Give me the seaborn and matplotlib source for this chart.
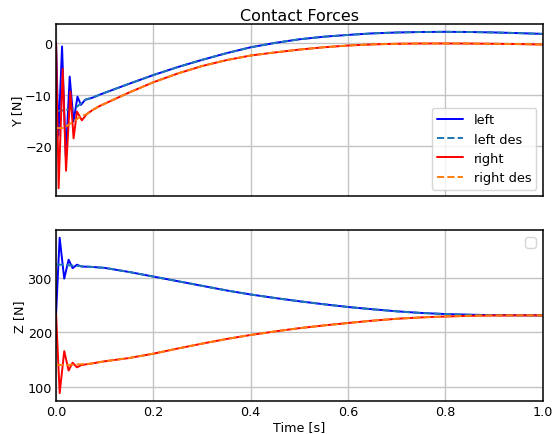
import matplotlib
matplotlib.use("Agg")
import matplotlib.pyplot as plt
import seaborn as sns

# ---------------- data ----------------
# smooth part of the Y (lateral) forces, after the transient
t_y_smooth = [0.09, 0.12, 0.15, 0.20, 0.25, 0.30, 0.35, 0.40, 0.45, 0.50,
              0.55, 0.60, 0.65, 0.70, 0.75, 0.80, 0.85, 0.90, 0.95, 1.0]
y_left_smooth = [-10.0, -8.95, -7.9, -6.2, -4.65, -3.25, -1.95, -0.8, 0.05, 0.75,
                 1.25, 1.6, 1.9, 2.07, 2.17, 2.2, 2.17, 2.08, 1.95, 1.8]
y_right_smooth = [-12.2, -10.9, -9.6, -7.6, -5.9, -4.45, -3.3, -2.4, -1.8, -1.25,
                  -0.8, -0.46, -0.24, -0.12, -0.07, -0.06, -0.08, -0.12, -0.18, -0.27]

# transient oscillations of the Y forces
t_y_left_osc = [0.0, 0.005, 0.0123, 0.020, 0.028, 0.036, 0.044, 0.051, 0.060, 0.075]
y_left_osc = [0.0, -18.0, -0.65, -22.0, -6.5, -15.2, -10.4, -12.0, -11.0, -10.6]
t_y_right_osc = [0.0, 0.0053, 0.0136, 0.0205, 0.0294, 0.036, 0.043, 0.053, 0.063, 0.075]
y_right_osc = [0.0, -28.2, -5.0, -24.8, -9.4, -18.5, -13.3, -15.0, -13.8, -13.0]

# desired Y forces at the start
t_y_left_des_early = [0.0, 0.02, 0.04, 0.06, 0.075]
y_left_des_early = [-13.2, -13.0, -12.6, -11.0, -10.6]
t_y_right_des_early = [0.0, 0.016, 0.033, 0.05, 0.063, 0.075]
y_right_des_early = [-16.5, -16.5, -15.4, -14.3, -13.8, -13.0]

# smooth part of the Z (vertical) forces
t_z_smooth = [0.10, 0.15, 0.20, 0.25, 0.30, 0.35, 0.40, 0.45, 0.50, 0.55,
              0.60, 0.65, 0.70, 0.75, 0.80, 0.85, 0.90, 0.95, 1.0]
z_left_smooth = [318.5, 311.0, 302.5, 294.0, 285.5, 277.0, 269.5, 263.0, 257.0, 251.5,
                 246.5, 242.3, 238.5, 235.5, 233.5, 232.2, 231.5, 231.2, 231.0]
z_right_smooth = [146.5, 152.5, 160.5, 170.0, 179.0, 187.5, 195.0, 201.5, 207.5, 212.5,
                  217.0, 221.3, 224.8, 227.3, 229.0, 230.2, 230.8, 231.0, 231.0]

# transient oscillations of the Z forces
t_z_osc = [0.0, 0.0074, 0.0168, 0.0258, 0.034, 0.043, 0.052, 0.07]
z_left_osc = [234.0, 374.0, 298.7, 333.6, 318.0, 324.4, 321.0, 320.5]
z_right_osc = [234.0, 87.7, 165.3, 129.4, 144.0, 135.4, 139.6, 142.0]

t_z_des_early = [0.0, 0.03, 0.07]
z_left_des_early = [325.0, 323.0, 320.5]
z_right_des_early = [139.6, 140.0, 142.0]

labels = ["left", "left des", "right", "right des"]
colors = ["#0000ff", "#1f77b4", "#ff0000", "#ff7f0e"]
styles = ["-", "--", "-", "--"]
x_ticks = [0.0, 0.2, 0.4, 0.6, 0.8, 1.0]
y_ticks = [-20, -10, 0]
z_ticks = [100, 200, 300]

# ---------------- style ----------------
sns.set_style("whitegrid", {"axes.edgecolor": "black", "grid.color": "#c4c4c4",
                            "xtick.color": "black", "ytick.color": "black",
                            "text.color": "black", "axes.labelcolor": "black"})
plt.rcParams["font.family"] = ["DejaVu Sans"]

fig = plt.figure(figsize=(5.55, 4.35), dpi=100)
ax1 = fig.add_axes([0.101, 0.547, 0.877, 0.3955])
ax2 = fig.add_axes([0.101, 0.0759, 0.877, 0.3931], sharex=ax1)

series_y = [
    (t_y_left_osc + t_y_smooth, y_left_osc + y_left_smooth),
    (t_y_left_des_early + t_y_smooth, y_left_des_early + y_left_smooth),
    (t_y_right_osc + t_y_smooth, y_right_osc + y_right_smooth),
    (t_y_right_des_early + t_y_smooth, y_right_des_early + y_right_smooth),
]
series_z = [
    (t_z_osc + t_z_smooth, z_left_osc + z_left_smooth),
    (t_z_des_early + t_z_smooth, z_left_des_early + z_left_smooth),
    (t_z_osc + t_z_smooth, z_right_osc + z_right_smooth),
    (t_z_des_early + t_z_smooth, z_right_des_early + z_right_smooth),
]

for (t, v), lab, c, ls in zip(series_y, labels, colors, styles):
    sns.lineplot(x=t, y=v, ax=ax1, color=c, linestyle=ls, linewidth=1.4,
                 label=lab, sort=False, estimator=None)
for (t, v), lab, c, ls in zip(series_z, labels, colors, styles):
    sns.lineplot(x=t, y=v, ax=ax2, color=c, linestyle=ls, linewidth=1.4,
                 sort=False, estimator=None, legend=False)

for ax in (ax1, ax2):
    ax.set_xlim(0, 1.0)
    for s in ax.spines.values():
        s.set_color("black")
        s.set_linewidth(1.1)
    ax.tick_params(labelsize=9.2, length=0, pad=3, color="black")
    ax.grid(True, color="#c4c4c4", linewidth=1.0)

ax1.set_yticks(y_ticks)
ax2.set_yticks(z_ticks)
ax2.set_xticks(x_ticks)
ax1.tick_params(labelbottom=False)

ax1.set_title("Contact Forces", fontsize=11.5, pad=3)
ax1.set_ylabel("Y [N]", fontsize=9.2, labelpad=1)
ax2.set_ylabel("Z [N]", fontsize=9.2, labelpad=1)
ax2.set_xlabel("Time [s]", fontsize=9.2, labelpad=1)

ax1.legend(loc="lower right", fontsize=9.3, frameon=True, framealpha=0.8)
ax2.legend(handles=[], loc="upper right", frameon=True)

fig.savefig("out.png", dpi=100)
